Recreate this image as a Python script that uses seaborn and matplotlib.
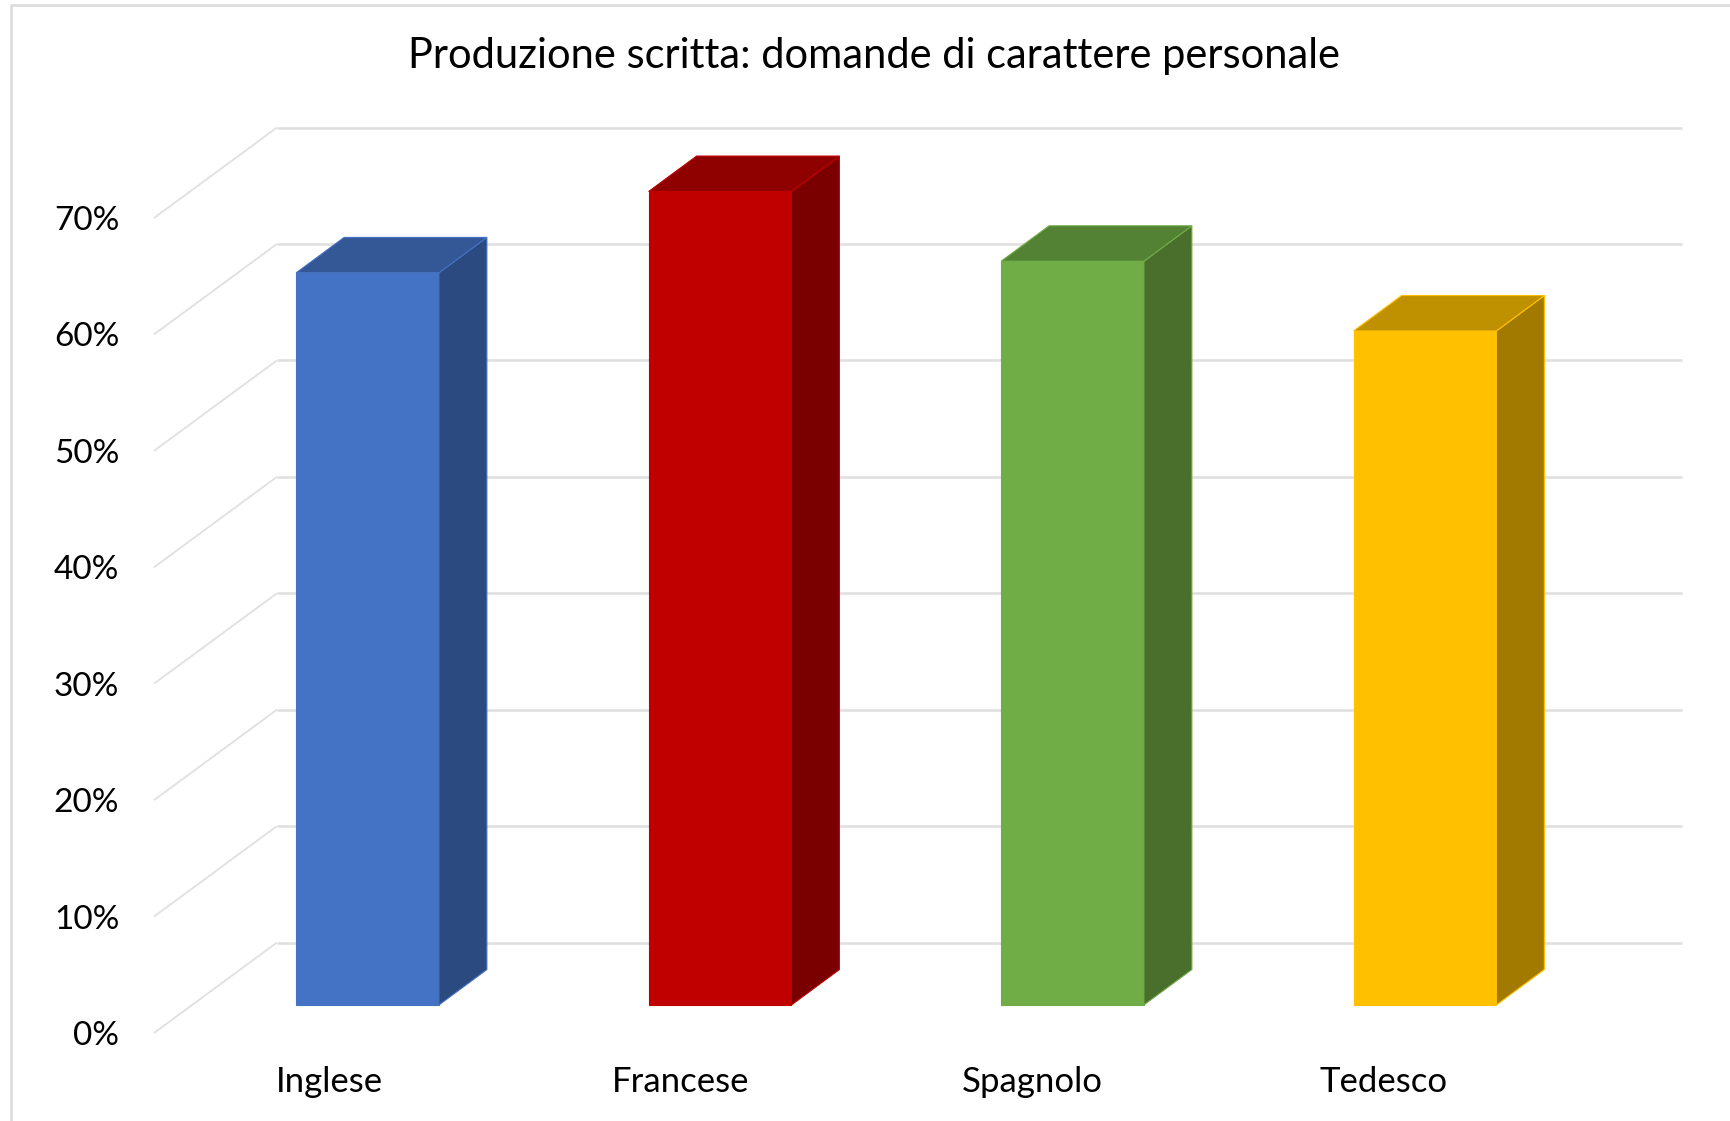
import matplotlib
matplotlib.use("Agg")
import matplotlib.pyplot as plt
import pandas as pd
import seaborn as sns

lingue = ["Inglese", "Francese", "Spagnolo", "Tedesco"]
percentuali = [63, 70, 64, 58]
tick_y = [0, 10, 20, 30, 40, 50, 60, 70]
titolo = "Produzione scritta: domande di carattere personale"

col_fronte = ["#4472C4", "#C00000", "#70AD47", "#FFC000"]
col_sopra = ["#345796", "#8F0000", "#548235", "#BF9000"]
col_lato = ["#2A4A80", "#7A0000", "#4A6E2C", "#A37A00"]

W, H = 1731, 1121
GRIGIO = "#E0E0E0"

sns.set_theme(style="white")
plt.rcParams["font.family"] = ["Lato", "DejaVu Sans"]

fig = plt.figure(figsize=(W / 100, H / 100), dpi=100, facecolor="white")


def box(sx, dx, basso, alto):
    # rettangolo in pixel (origine in alto a sinistra) -> frazioni della figura
    return [sx / W, 1 - basso / H, (dx - sx) / W, (basso - alto) / H]


# piano frontale: assi, etichette e griglia
ax = fig.add_axes(box(154, 1559, 1033, 218))
ax.set_xlim(-0.5, 3.5)
ax.set_ylim(0, 70)
ax.set_xticks(range(len(lingue)), lingue)
ax.set_yticks(tick_y, [f"{v}%" for v in tick_y])
ax.tick_params(axis="y", length=0, pad=25, labelsize=24, colors="black")
ax.tick_params(axis="x", length=0, pad=24, labelsize=25, colors="black")
sns.despine(ax=ax, left=True, bottom=True)
ax.patch.set_alpha(0)

prof_x = 0.35
prof_y = 7.77
for v in tick_y:
    ax.plot([-0.5, -0.5 + prof_x], [v, v + prof_y], color=GRIGIO, lw=1.3,
            solid_capstyle="butt", clip_on=False)
    ax.plot([-0.5 + prof_x, 3.5 + prof_x], [v + prof_y, v + prof_y], color=GRIGIO, lw=1.9,
            solid_capstyle="butt", clip_on=False)

# barre, spostate in profondita rispetto al piano frontale
ax_barre = fig.add_axes(box(191.25, 1601.25, 1005, 191.5))
df = pd.DataFrame({"lingua": lingue, "percentuale": percentuali})
sns.barplot(data=df, x="lingua", y="percentuale", hue="lingua", palette=col_fronte,
            saturation=1, width=0.405, legend=False, ax=ax_barre)
ax_barre.set_xlim(-0.5, 3.5)
ax_barre.set_ylim(0, 70)
ax_barre.axis("off")

bar_x = 48 / 352.5
bar_y = 35.5 / 11.64
for i, bar in enumerate(ax_barre.patches):
    x0 = bar.get_x()
    x1 = x0 + bar.get_width()
    h = bar.get_height()
    bar.set_edgecolor(col_fronte[i])
    bar.set_linewidth(0.8)
    bar.set_clip_on(False)
    ax_barre.fill([x1, x1 + bar_x, x1 + bar_x, x1], [0, bar_y, h + bar_y, h],
                  facecolor=col_lato[i], edgecolor=col_fronte[i], lw=0.8, clip_on=False)
    ax_barre.fill([x0, x1, x1 + bar_x, x0 + bar_x], [h, h, h + bar_y, h + bar_y],
                  facecolor=col_sopra[i], edgecolor=col_fronte[i], lw=0.8, clip_on=False)

fig.suptitle(titolo, x=874 / W, y=1 - 56 / H, va="center", ha="center", fontsize=30, color="black")

# cornice del grafico
fig.add_artist(plt.Line2D([11 / W, 11 / W, 1], [0, 1 - 5 / H, 1 - 5 / H], color="#DEDEDE", lw=2))

fig.savefig("out.png", dpi=100)
